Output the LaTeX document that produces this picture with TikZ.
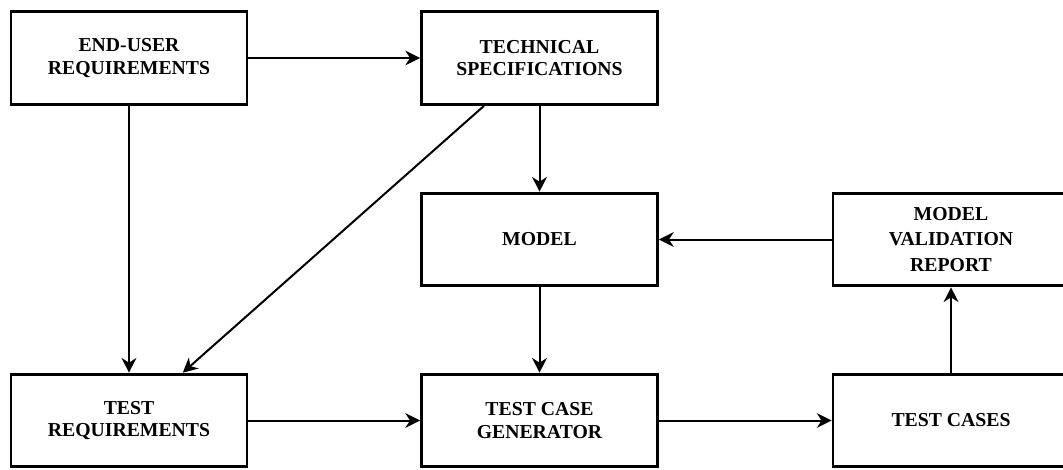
\documentclass[tikz,border=0pt]{standalone}
\usepackage{fontspec}
\setmainfont{Liberation Serif}
\usetikzlibrary{arrows.meta,calc}
\tikzset{
  block/.style={draw, line width=2.2pt, minimum width=177pt, minimum height=69.5pt,
    align=center, inner sep=0pt,
    font=\fontsize{14.8}{17}\selectfont\bfseries},
  flow/.style={line width=1.5pt, -{Stealth[length=11pt,width=11pt,inset=3.5pt]}}
}
\begin{document}
\begin{tikzpicture}[x=0.75pt,y=-0.75pt]
  \clip (0,0) rectangle (1063,469);
  \fill[white] (0,0) rectangle (1063,469);
  % boxes
  \node[block] (eu)  at (129,58)      {END-USER\\REQUIREMENTS};
  \node[block] (ts)  at (539.5,58)    {TECHNICAL\\SPECIFICATIONS};
  \node[block] (mod) at (539.5,239.5) {MODEL};
  \node[block, font=\fontsize{14.8}{18.8}\selectfont\bfseries]
               (mvr) at (951,239.5)   {MODEL\\VALIDATION\\REPORT};
  \node[block] (tr)  at (129,420.5)   {TEST\\REQUIREMENTS};
  \node[block] (tcg) at (539.5,420.5) {TEST CASE\\GENERATOR};
  \node[block] (tc)  at (951,420.5)   {TEST CASES};
  % connectors
  \draw[flow] (eu) -- (ts);
  \draw[flow] (eu) -- (tr);
  \draw[flow] ($(ts.south west)!0.268!(ts.south east)$) -- ($(tr.north west)!0.725!(tr.north east)$);
  \draw[flow] (ts) -- (mod);
  \draw[flow] (mod) -- (tcg);
  \draw[flow] (mvr) -- (mod);
  \draw[flow] (tr) -- (tcg);
  \draw[flow] (tcg) -- (tc);
  \draw[flow] (tc) -- (mvr);
\end{tikzpicture}
\end{document}
